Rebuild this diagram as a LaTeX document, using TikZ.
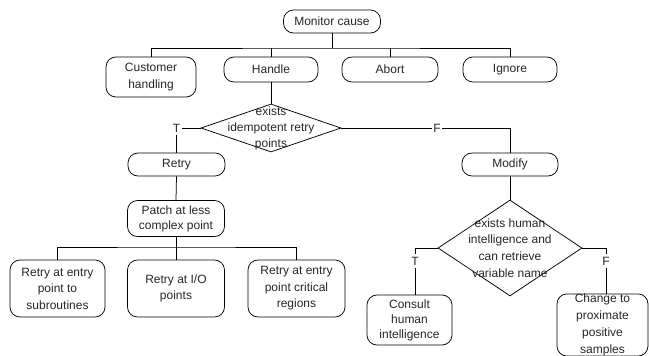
\documentclass[tikz,border=0pt]{standalone}
\usepackage{fontspec}
\setmainfont{Liberation Sans}
\usetikzlibrary{shapes.geometric}
\begin{document}
\begin{tikzpicture}[x=1pt,y=-1pt,
  every node/.style={font=\fontsize{12}{16.5}\selectfont, text=black!85},
  fbox/.style={draw=black, rounded corners=10pt, align=center, inner sep=0pt, line width=0.75pt},
  dia/.style={draw=black, diamond, inner sep=0pt, line width=0.75pt},
  dtext/.style={align=center, inner sep=0pt},
  lbl/.style={fill=white, inner sep=1.5pt, inner ysep=3pt},
  conn/.style={line width=0.75pt}]
\useasboundingbox (0,0) rectangle (649,356);

% top
\node[fbox, minimum width=97pt, minimum height=23pt] (mc) at (332,21.5) {Monitor cause};
\node[fbox, minimum width=90pt, minimum height=40pt] (cust) at (151,77) {Customer\\handling};
\node[fbox, minimum width=94pt, minimum height=25pt] (handle) at (271,69.5) {Handle};
\node[fbox, minimum width=96pt, minimum height=25pt] (abort) at (390,69.5) {Abort};
\node[fbox, minimum width=94pt, minimum height=25pt] (ignore) at (510,69.5) {Ignore};
\coordinate (b1) at (332,48);
\draw[conn] (mc.south) -- (b1);
\draw[conn] (cust.north) |- (b1) -| (ignore.north);
\draw[conn] (handle.north) -- (handle.north |- b1);
\draw[conn] (abort.north) -- (abort.north |- b1);

% first decision
\node[dia, minimum width=140pt, minimum height=48pt] (d1) at (271,128) {};
\node[dtext, font=\fontsize{12}{16}\selectfont] (d1t) at (d1.center) {exists\\idempotent retry\\points};
\draw[conn] (handle.south) -- (d1.north);

\node[fbox, minimum width=97pt, minimum height=23pt] (retry) at (176.5,164.5) {Retry};
\node[fbox, minimum width=96pt, minimum height=23pt] (modify) at (510,164.5) {Modify};
\draw[conn] (d1.west) -| (retry.north);
\draw[conn] (d1.east) -| (modify.north);
\node[lbl] (t1) at (retry.north |- d1.west) {T};
\node[lbl] (f1) at (437,128) {F};

% left branch
\node[fbox, minimum width=97pt, minimum height=36pt, font=\fontsize{12}{15}\selectfont] (patch) at (176,218.5) {Patch at less\\complex point};
\draw[conn] (retry.south) -- (patch.north);
\node[fbox, minimum width=95pt, minimum height=57pt] (r1) at (57.5,288.5) {Retry at entry\\point to\\subroutines};
\node[fbox, minimum width=97pt, minimum height=57pt] (r2) at (176,288.5) {Retry at I/O\\points};
\node[fbox, minimum width=97pt, minimum height=57pt] (r3) at (296.5,288.5) {Retry at entry\\point critical\\regions};
\coordinate (b2) at (176,247);
\draw[conn] (patch.south) -- (b2);
\draw[conn] (r1.north) |- (b2) -| (r3.north);
\draw[conn] (r2.north) -- (b2);

% right branch
\node[dia, minimum width=144pt, minimum height=96pt] (d2) at (510,248) {};
\node[dtext, font=\fontsize{12}{16.7}\selectfont] (d2t) at (d2.center) {exists human\\intelligence and\\can retrieve\\variable name};
\draw[conn] (modify.south) -- (d2.north);

\node[fbox, minimum width=85pt, minimum height=50pt, font=\fontsize{12}{15}\selectfont] (consult) at (409.5,320) {Consult\\human\\intelligence};
\node[fbox, minimum width=91pt, minimum height=60pt, font=\fontsize{12}{17}\selectfont] (change) at (602.5,325) {Change to\\proximate\\positive\\samples};
\coordinate (c2) at (415,248);
\coordinate (c3) at (606,248);
\draw[conn] (d2.west) -- (c2) -- (c2 |- consult.north);
\draw[conn] (d2.east) -- (c3) -- (c3 |- change.north);
\node[lbl] (t2) at (415,261) {T};
\node[lbl] (f2) at (606,261) {F};
\end{tikzpicture}
\end{document}
